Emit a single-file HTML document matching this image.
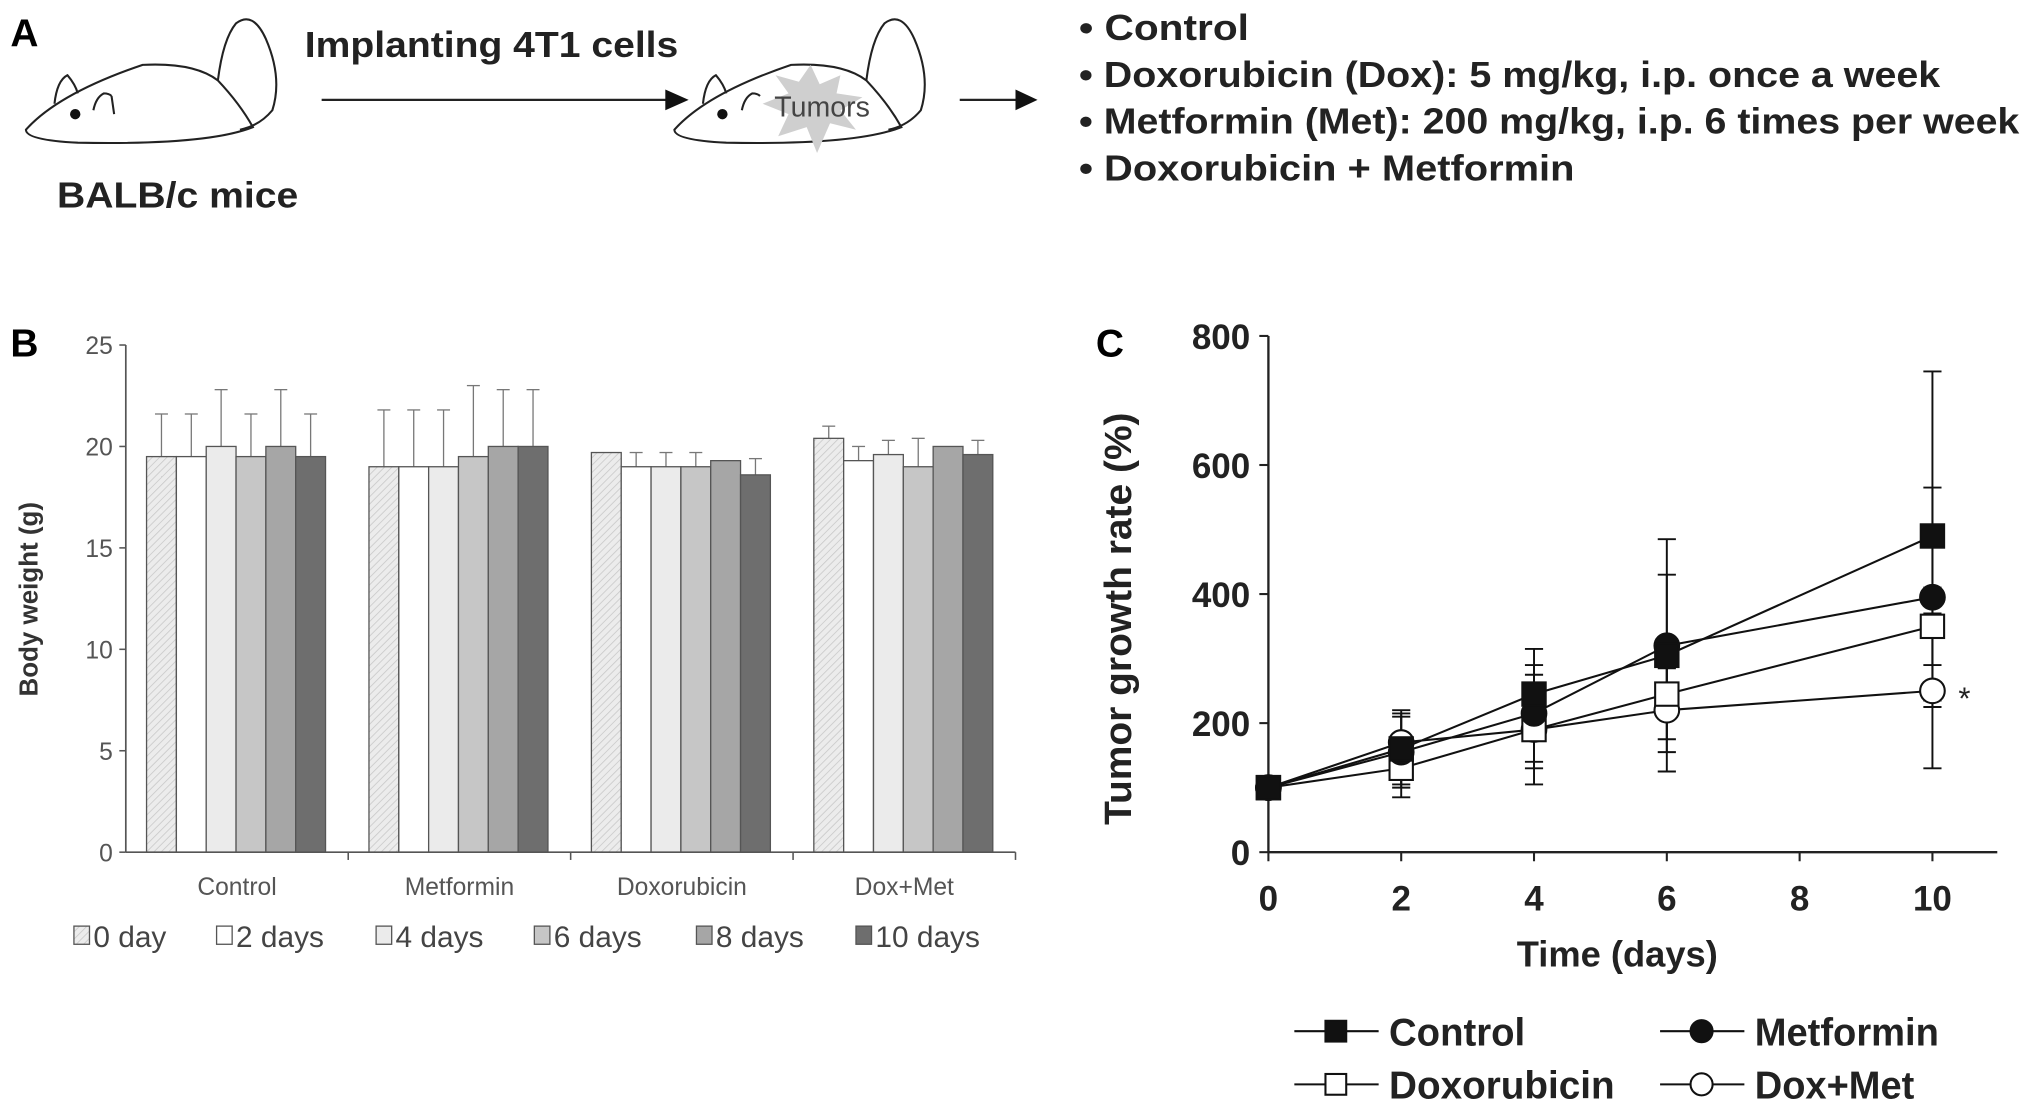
<!DOCTYPE html>
<html><head><meta charset="utf-8"><style>
html,body{margin:0;padding:0;background:#fff;}
svg{display:block;font-family:"Liberation Sans",Arial,sans-serif;}
</style></head><body>
<svg id="fig" width="2031" height="1109" viewBox="0 0 1566 855" preserveAspectRatio="none" xmlns="http://www.w3.org/2000/svg">
<defs>
<pattern id="hatch" width="4" height="4" patternUnits="userSpaceOnUse" patternTransform="rotate(45)">
<rect width="4" height="4" fill="#ececec"/><line x1="0" y1="0" x2="0" y2="4" stroke="#c8c8c8" stroke-width="1.2"/>
</pattern>
</defs>
<g>
<text x="8" y="36" font-size="30" font-weight="bold">A</text>
<g fill="none" stroke="#222" stroke-width="1.6">
<path d="M20,100 Q45,72 110,50 Q150,48 168,62 Q185,80 195,98 Q160,112 60,110 Q20,108 20,100 Z"/>
<path d="M168,62 Q172,30 182,18 Q195,8 205,30 Q218,60 210,85 Q200,97 185,100"/>
<path d="M42,80 Q44,62 52,58 Q58,65 60,72"/>
<path d="M72,85 Q74,75 80,72 Q84,72 86,74 M86,74 L88,88"/>
<circle cx="58" cy="88" r="4" fill="#111" stroke="none"/>
</g>
<text x="44" y="160" font-size="28" font-weight="bold" fill="#222" textLength="186" lengthAdjust="spacingAndGlyphs">BALB/c mice</text>
<text x="235" y="44" font-size="28" font-weight="bold" fill="#222" textLength="288" lengthAdjust="spacingAndGlyphs">Implanting 4T1 cells</text>
<line x1="248" y1="77" x2="515" y2="77" stroke="#222" stroke-width="1.8"/>
<polygon points="513,69 531,77 513,85" fill="#111"/>
<g fill="none" stroke="#222" stroke-width="1.6">
<path d="M520,100 Q545,72 610,50 Q650,48 668,62 Q685,80 695,98 Q660,112 560,110 Q520,108 520,100 Z"/>
<path d="M668,62 Q672,30 682,18 Q695,8 705,30 Q718,60 710,85 Q700,97 685,100"/>
<path d="M542,80 Q544,62 552,58 Q558,65 560,72"/>
<path d="M572,85 Q574,75 580,72 Q584,72 586,74"/>
<circle cx="557" cy="88" r="4" fill="#111" stroke="none"/>
<polygon points="625,50 632,65 648,58 645,72 665,75 648,85 660,100 640,95 630,118 622,98 600,105 608,88 588,80 608,72 598,58 616,63" fill="#cfcfcf" stroke="none"/>
</g>
<text x="597" y="90" font-size="22" fill="#444">Tumors</text>
<line x1="740" y1="77" x2="785" y2="77" stroke="#222" stroke-width="1.8"/>
<polygon points="783,69 800,77 783,85" fill="#111"/>
<g font-size="28" font-weight="bold" fill="#222">
<text x="832" y="31" textLength="131" lengthAdjust="spacingAndGlyphs">• Control</text>
<text x="832" y="67" textLength="664" lengthAdjust="spacingAndGlyphs">• Doxorubicin (Dox): 5 mg/kg, i.p. once a week</text>
<text x="832" y="103" textLength="725" lengthAdjust="spacingAndGlyphs">• Metformin (Met): 200 mg/kg, i.p. 6 times per week</text>
<text x="832" y="139" textLength="382" lengthAdjust="spacingAndGlyphs">• Doxorubicin + Metformin</text>
</g>
</g>
<g id="panelB">
<text x="8" y="275" font-size="30" font-weight="bold">B</text>
</g>
<g id="panelC">
<text x="845" y="275" font-size="30" font-weight="bold">C</text>
</g>
</svg>
<script>
// ---- Panel B data ----
const groups = ["Control","Metformin","Doxorubicin","Dox+Met"];
const seriesNames = ["0 day","2 days","4 days","6 days","8 days","10 days"];
const ctrlW = [19.5,19.5,20,19.5,20,19.5];
const metW = [19,19,19,19.5,20,20];
const doxW = [19.7,19,19,19,19.3,18.6];
const dmW = [20.4,19.3,19.6,19,20,19.6];
const ctrlE = [2.1,2.1,2.8,2.1,2.8,2.1];
const metE = [2.8,2.8,2.8,3.5,2.8,2.8];
const doxE = [0,0.7,0.7,0.7,0,0.8];
const dmE = [0.6,0.7,0.7,1.4,0,0.7];
const bTicks = [0,5,10,15,20,25];
// ---- Panel C data ----
const days = [0,2,4,6,10];
const ctrlT = [100,160,245,305,490];
const metT = [100,155,215,320,395];
const doxT = [100,130,190,245,350];
const dmT = [100,170,190,220,250];
const ctrlTE = [0,55,70,180,255];
const metTE = [0,55,75,110,170];
const doxTE = [0,45,60,70,60];
const dmTE = [0,50,85,65,120];
const cYTicks = [0,200,400,600,800];
const cXTicks = [0,2,4,6,8,10];

const NS="http://www.w3.org/2000/svg";
function mk(tag,attrs,parent,txt){const e=document.createElementNS(NS,tag);for(const k in attrs)e.setAttribute(k,attrs[k]);if(txt!==undefined)e.textContent=txt;parent.appendChild(e);return e;}

const B=document.getElementById('panelB');
const bx0=97,bx1=783,by0=657,by25=266;
const yB=v=>by0-(by0-by25)*v/25;
const gW=(bx1-bx0)/4;
const barW=23;
const fills=["url(#hatch)","#ffffff","#ebebeb","#c6c6c6","#a6a6a6","#6e6e6e"];
const data=[ctrlW,metW,doxW,dmW], errs=[ctrlE,metE,doxE,dmE];
groups.forEach((g,gi)=>{
  data[gi].forEach((v,si)=>{
    const x=bx0+gi*gW+16+si*barW;
    const e=errs[gi][si];
    if(e>0){
      const l=mk('line',{x1:x+barW/2,x2:x+barW/2,y1:yB(v),y2:yB(v+e),stroke:'#777','stroke-width':1},B);
      
      
      mk('line',{x1:x+barW/2-5,x2:x+barW/2+5,y1:yB(v+e),y2:yB(v+e),stroke:'#777','stroke-width':1},B);
    }
    const r=mk('rect',{x:x,y:yB(v),width:barW,height:by0-yB(v),fill:fills[si],stroke:'#555','stroke-width':1},B);
    
    
  });
  const t=mk('text',{x:bx0+gi*gW+gW/2,y:690,'font-size':19,fill:'#555','text-anchor':'middle'},B,g);
  
  
  mk('line',{x1:bx0+(gi+1)*gW,x2:bx0+(gi+1)*gW,y1:by0,y2:by0+6,stroke:'#555','stroke-width':1.2},B);
});
mk('line',{x1:bx0,x2:bx0,y1:by25,y2:by0,stroke:'#555','stroke-width':1.3},B);
mk('line',{x1:bx0,x2:bx1,y1:by0,y2:by0,stroke:'#555','stroke-width':1.3},B);
bTicks.forEach(t=>{
  mk('line',{x1:bx0-5,x2:bx0,y1:yB(t),y2:yB(t),stroke:'#555','stroke-width':1.2},B);
  const tl=mk('text',{x:bx0-10,y:yB(t)+7,'font-size':19,fill:'#555','text-anchor':'end'},B,t);
  
  
});
const byt=mk('text',{x:0,y:0,'font-size':20,'font-weight':'bold',fill:'#333','text-anchor':'middle',transform:'translate(29,462) rotate(-90)'},B,'Body weight (g)');


const legX=[57,167,290,412,537,660];
seriesNames.forEach((n,i)=>{
  mk('rect',{x:legX[i],y:714,width:12,height:14,fill:fills[i],stroke:'#555','stroke-width':1},B);
  const lt=mk('text',{x:legX[i]+15,y:730,'font-size':23,fill:'#444'},B,n);
  
  
});

const C=document.getElementById('panelC');
const cx0=978,cx10=1490,cy0=657,cy800=259;
const xC=d=>cx0+(cx10-cx0)*d/10;
const yC=v=>cy0-(cy0-cy800)*v/800;
mk('line',{x1:cx0,x2:cx0,y1:cy800,y2:cy0,stroke:'#222','stroke-width':1.8},C);
mk('line',{x1:cx0,x2:1540,y1:cy0,y2:cy0,stroke:'#222','stroke-width':1.8},C);
cYTicks.forEach(t=>{
  mk('line',{x1:cx0-7,x2:cx0,y1:yC(t),y2:yC(t),stroke:'#222','stroke-width':1.6},C);
  const tl=mk('text',{x:cx0-14,y:yC(t)+10,'font-size':27,'font-weight':'bold',fill:'#222','text-anchor':'end'},C,t);
  
  
});
cXTicks.forEach(t=>{
  mk('line',{x1:xC(t),x2:xC(t),y1:cy0,y2:cy0+7,stroke:'#222','stroke-width':1.6},C);
  const tl=mk('text',{x:xC(t),y:702,'font-size':27,'font-weight':'bold',fill:'#222','text-anchor':'middle'},C,t);
  
  
});
const xt=mk('text',{x:1247,y:745,'font-size':28,'font-weight':'bold',fill:'#222','text-anchor':'middle'},C,'Time (days)');


const yt=mk('text',{x:0,y:0,'font-size':29,'font-weight':'bold',fill:'#222','text-anchor':'middle',textLength:318,lengthAdjust:'spacingAndGlyphs',transform:'translate(872,477) rotate(-90)'},C,'Tumor growth rate (%)');


const series=[
 {name:'Control',v:ctrlT,e:ctrlTE,shape:'sq',fill:'#111'},
 {name:'Metformin',v:metT,e:metTE,shape:'ci',fill:'#111'},
 {name:'Doxorubicin',v:doxT,e:doxTE,shape:'sq',fill:'#fff'},
 {name:'Dox+Met',v:dmT,e:dmTE,shape:'ci',fill:'#fff'}];
function marker(shape,x,y,fill,parent,sz){
  sz=sz||9;
  if(shape==='sq') return mk('rect',{x:x-sz,y:y-sz,width:2*sz,height:2*sz,fill:fill,stroke:'#111','stroke-width':1.6},parent);
  return mk('circle',{cx:x,cy:y,r:sz+0.5,fill:fill,stroke:'#111','stroke-width':1.6},parent);
}
series.forEach(s=>{
  s.v.forEach((v,i)=>{
    if(s.e[i]>0){
      const x=xC(days[i]);
      const l=mk('line',{x1:x,x2:x,y1:yC(v-s.e[i]),y2:yC(v+s.e[i]),stroke:'#111','stroke-width':1.5},C);
      
      
      mk('line',{x1:x-7,x2:x+7,y1:yC(v+s.e[i]),y2:yC(v+s.e[i]),stroke:'#111','stroke-width':1.5},C);
      mk('line',{x1:x-7,x2:x+7,y1:yC(v-s.e[i]),y2:yC(v-s.e[i]),stroke:'#111','stroke-width':1.5},C);
    }
  });
});
series.forEach(s=>{
  const pts=s.v.map((v,i)=>xC(days[i])+','+yC(v)).join(' ');
  const pl=mk('polyline',{points:pts,fill:'none',stroke:'#111','stroke-width':1.6},C);
  
  
});
series.slice().reverse().forEach(s=>{
  s.v.forEach((v,i)=>{
    const m=marker(s.shape,xC(days[i]),yC(v),s.fill,C);
    
    
  });
});
const star=mk('text',{x:xC(10)+20,y:yC(dmT[4])+14,'font-size':24,fill:'#222'},C,'*');


const legPos=[[998,795],[1280,795],[998,836],[1280,836]];
const legLen=[105,142,174,123];
series.forEach((s,i)=>{
  const [lx,ly]=legPos[i];
  mk('line',{x1:lx,x2:lx+65,y1:ly,y2:ly,stroke:'#111','stroke-width':1.6},C);
  marker(s.shape,lx+32,ly,s.fill,C,8);
  const lt=mk('text',{x:lx+73,y:ly+11,'font-size':30,'font-weight':'bold',fill:'#222',textLength:legLen[i],lengthAdjust:'spacingAndGlyphs'},C,s.name);
  
  
});
</script>
</body></html>
